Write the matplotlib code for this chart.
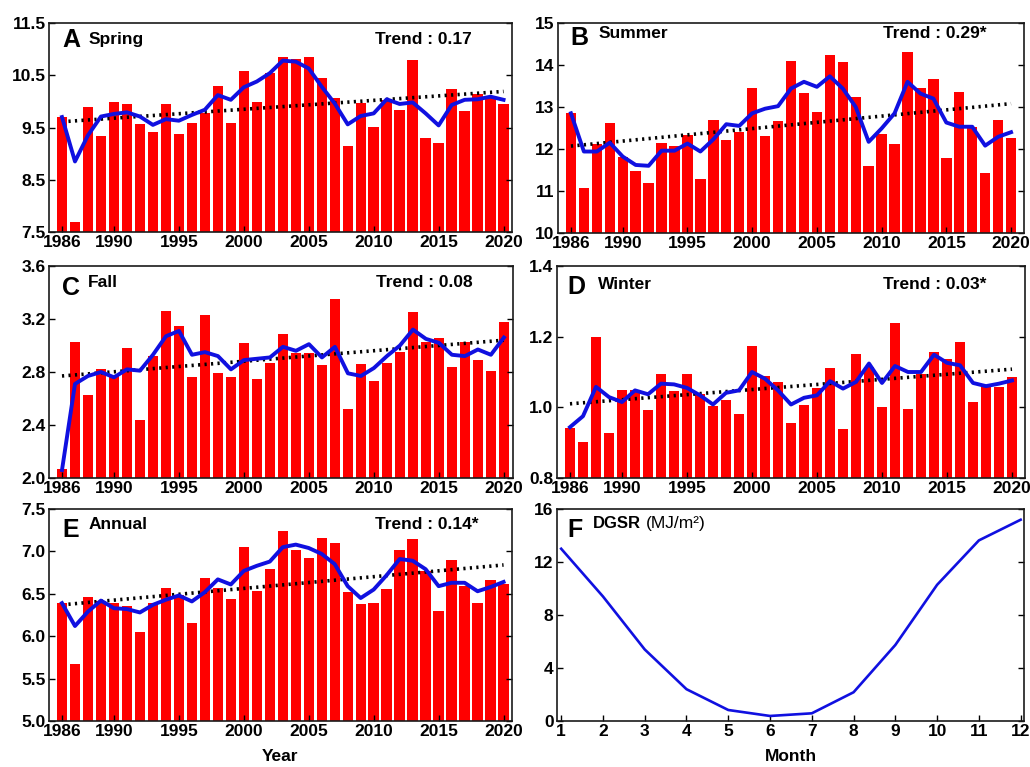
import numpy as np
import matplotlib
matplotlib.use("Agg")
import matplotlib.pyplot as plt

plt.rcParams['font.family'] = ['Liberation Sans', 'DejaVu Sans']
plt.rcParams['font.weight'] = 'bold'

years = list(range(1986, 2021))
year_ticks = [1986, 1990, 1995, 2000, 2005, 2010, 2015, 2020]

# seasonal DGSR bars, smoothed curve and trend end points
spring = [9.71, 7.69, 9.90, 9.33, 9.99, 9.95, 9.57, 9.42, 9.95, 9.38,
          9.58, 9.78, 10.30, 9.58, 10.59, 9.98, 10.55, 10.84, 10.81, 10.84,
          10.44, 10.06, 9.14, 9.96, 9.51, 10.03, 9.83, 10.79, 9.29, 9.21,
          10.24, 9.81, 10.15, 10.08, 9.95]
spring_smooth = [9.70, 8.85, 9.35, 9.71, 9.76, 9.79, 9.71, 9.55, 9.66, 9.63,
                 9.74, 9.84, 10.12, 10.03, 10.27, 10.38, 10.54, 10.78, 10.76, 10.63,
                 10.28, 9.96, 9.56, 9.72, 9.77, 10.04, 9.95, 9.98, 9.77, 9.54,
                 9.93, 10.03, 10.04, 10.09, 10.03]
spring_trend = [9.61, 10.19]

summer = [12.85, 11.06, 12.12, 12.63, 11.82, 11.48, 11.20, 12.15, 12.06, 12.33,
          11.29, 12.70, 12.21, 12.40, 13.45, 12.31, 12.66, 14.10, 13.34, 12.87,
          14.25, 14.06, 13.24, 11.60, 12.35, 12.11, 14.32, 13.46, 13.66, 11.79,
          13.36, 12.53, 11.43, 12.69, 12.27]
summer_smooth = [12.85, 11.94, 11.94, 12.15, 11.82, 11.62, 11.60, 11.96, 11.96, 12.13,
                 11.94, 12.23, 12.59, 12.55, 12.85, 12.96, 13.02, 13.44, 13.60, 13.48,
                 13.73, 13.44, 13.00, 12.17, 12.49, 12.85, 13.60, 13.32, 13.20, 12.63,
                 12.53, 12.53, 12.08, 12.29, 12.40]
summer_trend = [12.07, 13.08]

fall = [2.07, 3.03, 2.63, 2.82, 2.77, 2.98, 2.44, 2.92, 3.26, 3.15,
        2.76, 3.23, 2.79, 2.76, 3.02, 2.75, 2.87, 3.09, 2.94, 2.94,
        2.85, 3.35, 2.52, 2.86, 2.73, 2.87, 2.95, 3.25, 3.03, 3.06,
        2.84, 3.03, 2.89, 2.81, 3.18]
fall_smooth = [2.06, 2.71, 2.77, 2.80, 2.76, 2.82, 2.81, 2.93, 3.07, 3.11,
               2.93, 2.95, 2.92, 2.82, 2.89, 2.90, 2.91, 2.99, 2.96, 3.01,
               2.91, 2.99, 2.79, 2.77, 2.83, 2.92, 3.00, 3.12, 3.05, 3.02,
               2.93, 2.92, 2.97, 2.93, 3.06]
fall_trend = [2.77, 3.04]

winter = [0.942, 0.902, 1.198, 0.927, 1.050, 1.050, 0.992, 1.094, 1.046, 1.093,
          1.039, 1.003, 1.020, 0.982, 1.174, 1.090, 1.072, 0.955, 1.007, 1.055,
          1.112, 0.940, 1.152, 1.114, 1.002, 1.238, 0.995, 1.095, 1.158, 1.136,
          1.184, 1.016, 1.062, 1.058, 1.087]
winter_smooth = [0.944, 0.975, 1.058, 1.029, 1.015, 1.048, 1.037, 1.067, 1.065, 1.055,
                 1.034, 1.008, 1.041, 1.048, 1.100, 1.081, 1.048, 1.008, 1.027, 1.034,
                 1.074, 1.053, 1.072, 1.124, 1.069, 1.117, 1.100, 1.100, 1.149, 1.126,
                 1.119, 1.069, 1.060, 1.067, 1.076]
winter_trend = [1.010, 1.108]

annual = [6.39, 5.67, 6.46, 6.42, 6.39, 6.36, 6.05, 6.39, 6.57, 6.49,
          6.16, 6.69, 6.57, 6.44, 7.05, 6.53, 6.79, 7.24, 7.02, 6.92,
          7.16, 7.10, 6.52, 6.38, 6.39, 6.56, 7.02, 7.15, 6.77, 6.30,
          6.90, 6.59, 6.39, 6.66, 6.62]
annual_smooth = [6.39, 6.12, 6.29, 6.42, 6.33, 6.32, 6.28, 6.37, 6.43, 6.48,
                 6.41, 6.52, 6.67, 6.61, 6.77, 6.83, 6.88, 7.05, 7.08, 7.04,
                 6.97, 6.85, 6.59, 6.45, 6.55, 6.72, 6.91, 6.89, 6.79, 6.59,
                 6.63, 6.63, 6.53, 6.58, 6.64]
annual_trend = [6.37, 6.84]

months = list(range(1, 13))
monthly = [13.0, 9.4, 5.4, 2.4, 0.83, 0.38, 0.58, 2.17, 5.74, 10.28, 13.63, 15.19]

W, H = 1030, 767
fig = plt.figure(figsize=(W / 100, H / 100), dpi=100)


def add_ax(l, r, t, b):
    return fig.add_axes([l / W, 1 - b / H, (r - l) / W, (b - t) / H])


def style(ax):
    ax.tick_params(direction='in', length=4, width=1, right=True,
                   labelsize=12.5, pad=2.5)
    for lab in ax.get_xticklabels() + ax.get_yticklabels():
        lab.set_fontweight('bold')
    for s in ax.spines.values():
        s.set_linewidth(1.2)
        s.set_color('#1a1a1a')


def season(ax, vals, smooth, trend, ylim, yticks, ylabels, letter, name, trend_txt,
           xright, pos):
    ax.bar(years, vals, width=0.8, color='#ff0000', zorder=1)
    ax.plot(years, smooth, color='#1010e0', lw=2.8, zorder=3)
    ax.plot([years[0], years[-1]], trend, color='black', lw=2.6,
            linestyle=(0, (0.6, 1.2)), zorder=2)
    ax.set_xlim(1985, xright)
    ax.set_ylim(*ylim)
    ax.set_yticks(yticks)
    ax.set_yticklabels(ylabels)
    ax.set_xticks(year_ticks)
    (lx, ly), (nx, ny), (tx, ty) = pos
    ax.text(lx, ly, letter, transform=ax.transAxes, fontsize=18,
            fontweight='bold', va='center', ha='left')
    ax.text(nx, ny, name, transform=ax.transAxes, fontsize=12.5,
            fontweight='bold', va='center', ha='left')
    ax.text(tx, ty, trend_txt, transform=ax.transAxes, fontsize=12.5,
            fontweight='bold', va='center', ha='left')
    style(ax)


axA = add_ax(49, 512, 23, 232)
season(axA, spring, spring_smooth, spring_trend, (7.5, 11.5),
       [7.5, 8.5, 9.5, 10.5, 11.5], ['7.5', '8.5', '9.5', '10.5', '11.5'],
       'A', 'Spring', 'Trend : 0.17', 2020.65,
       [(0.028, 0.92), (0.086, 0.92), (0.705, 0.92)])

axB = add_ax(558, 1024, 23, 233)
season(axB, summer, summer_smooth, summer_trend, (10, 15),
       [10, 11, 12, 13, 14, 15], ['10', '11', '12', '13', '14', '15'],
       'B', 'Summer', 'Trend : 0.29*', 2021,
       [(0.026, 0.93), (0.087, 0.95), (0.698, 0.95)])

axC = add_ax(49, 513, 266, 478)
season(axC, fall, fall_smooth, fall_trend, (2.0, 3.6),
       [2.0, 2.4, 2.8, 3.2, 3.6], ['2.0', '2.4', '2.8', '3.2', '3.6'],
       'C', 'Fall', 'Trend : 0.08', 2020.7,
       [(0.028, 0.895), (0.084, 0.92), (0.705, 0.92)])

axD = add_ax(557, 1025, 266, 478)
season(axD, winter, winter_smooth, winter_trend, (0.8, 1.4),
       [0.8, 1.0, 1.2, 1.4], ['0.8', '1.0', '1.2', '1.4'],
       'D', 'Winter', 'Trend : 0.03*', 2021,
       [(0.022, 0.90), (0.087, 0.915), (0.696, 0.915)])

axE = add_ax(49, 512, 509, 721)
season(axE, annual, annual_smooth, annual_trend, (5.0, 7.5),
       [5.0, 5.5, 6.0, 6.5, 7.0, 7.5], ['5.0', '5.5', '6.0', '6.5', '7.0', '7.5'],
       'E', 'Annual', 'Trend : 0.14*', 2020.65,
       [(0.028, 0.90), (0.086, 0.925), (0.705, 0.925)])
axE.set_xlabel('Year', fontsize=12.5, fontweight='bold', labelpad=7)

axF = add_ax(557, 1024, 509, 721)
axF.plot(months, monthly, color='#1010e0', lw=1.9)
axF.set_xlim(0.9, 12.08)
axF.set_ylim(0, 16)
axF.set_xticks(months)
axF.set_yticks([0, 4, 8, 12, 16])
axF.text(0.022, 0.90, 'F', transform=axF.transAxes, fontsize=18,
         fontweight='bold', va='center', ha='left')
axF.text(0.076, 0.93, 'DGSR', transform=axF.transAxes, fontsize=12,
         fontweight='bold', va='center', ha='left')
axF.text(0.19, 0.93, '(MJ/m\u00b2)', transform=axF.transAxes, fontsize=12.5,
         fontweight='normal', va='center', ha='left')
axF.set_xlabel('Month', fontsize=12.5, fontweight='bold', labelpad=7)
style(axF)

fig.savefig('out.png', dpi=100)
